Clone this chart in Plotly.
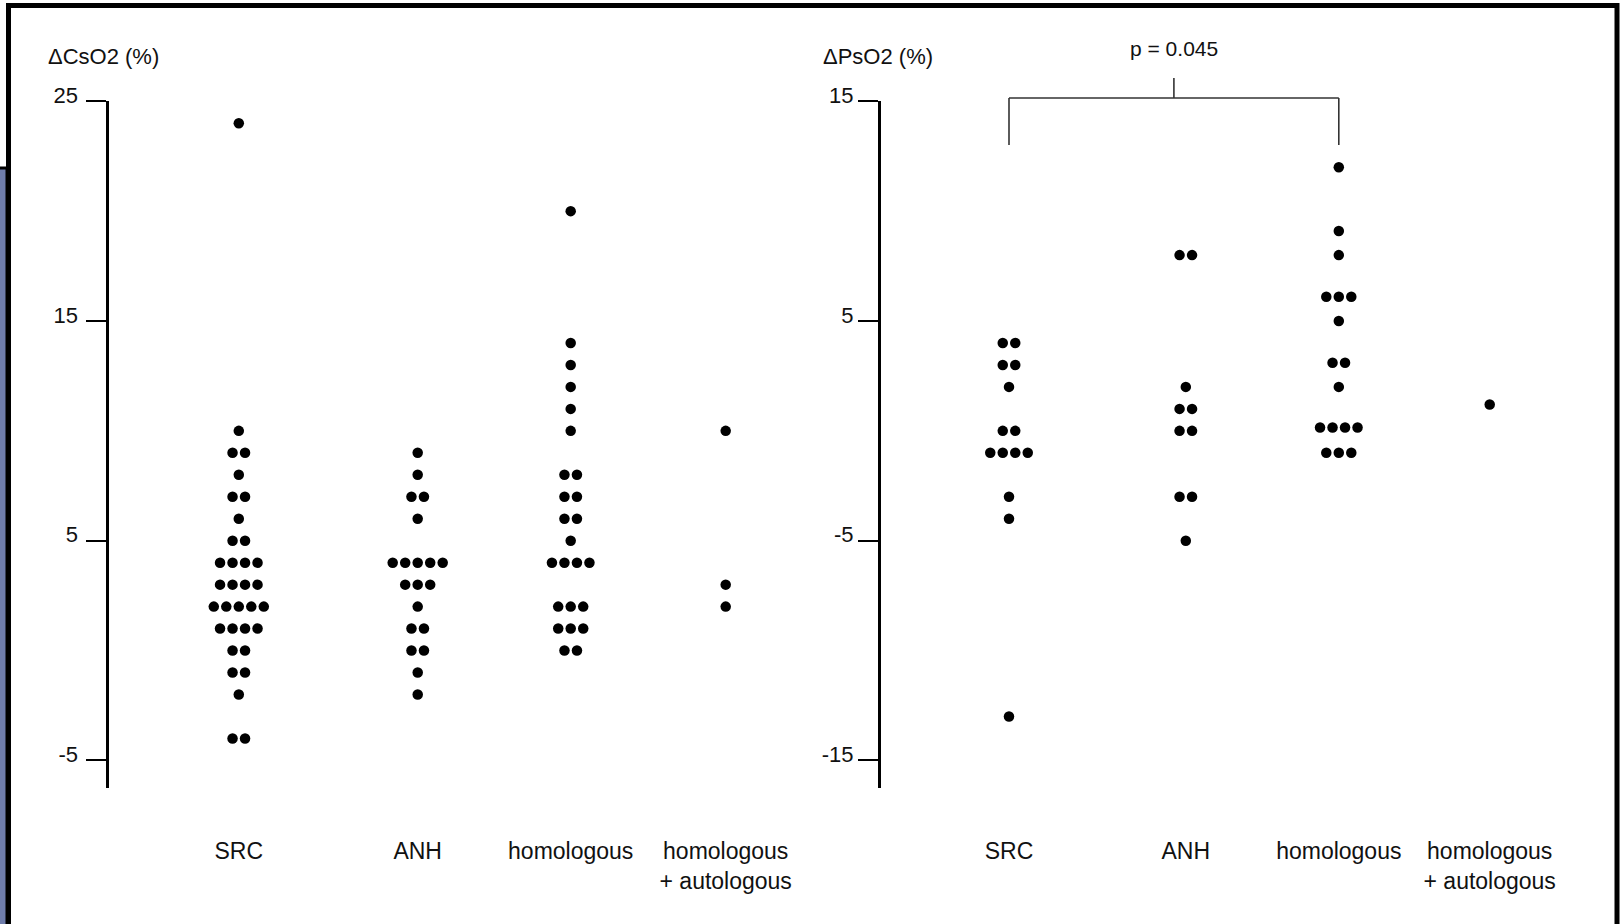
import plotly.graph_objects as go
from collections import Counter

W, H = 1621, 924

# ---------------- data ----------------
categories = ["SRC", "ANH", "homologous", "homologous<br>+ autologous"]

# Delta CsO2 (%) per group
cso2_src = [24, 10, 9, 9, 8, 7, 7, 6, 5, 5, 4, 4, 4, 4, 3, 3, 3, 3,
            2, 2, 2, 2, 2, 1, 1, 1, 1, 0, 0, -1, -1, -2, -4, -4]
cso2_anh = [9, 8, 7, 7, 6, 4, 4, 4, 4, 4, 3, 3, 3, 2, 1, 1, 0, 0, -1, -2]
cso2_hom = [20, 14, 13, 12, 11, 10, 8, 8, 7, 7, 6, 6, 5, 4, 4, 4, 4,
            2, 2, 2, 1, 1, 1, 0, 0]
cso2_homauto = [10, 3, 2]

# Delta PsO2 (%) per group
pso2_src = [4, 4, 3, 3, 2, 0, 0, -1, -1, -1, -1, -3, -4, -13]
pso2_anh = [8, 8, 2, 1, 1, 0, 0, -3, -3, -5]
pso2_hom = [12, 9.1, 8, 6.1, 6.1, 6.1, 5, 3.1, 3.1, 2,
            0.15, 0.15, 0.15, 0.15, -1, -1, -1]
pso2_homauto = [1.2]

cso2_groups = [cso2_src, cso2_anh, cso2_hom, cso2_homauto]
pso2_groups = [pso2_src, pso2_anh, pso2_hom, pso2_homauto]

left_ticks = [25, 15, 5, -5]
right_ticks = [15, 5, -5, -15]
left_title = "ΔCsO2 (%)"
right_title = "ΔPsO2 (%)"
p_label = "p = 0.045"

# ---------------- layout constants (pixels) ----------------
FONT = "Liberation Sans, Arial, Helvetica, sans-serif"
Y_TOP, Y_BOT = 101.3, 788.0
PX_PER_UNIT = 21.97
LX0, LX1 = 108.5, 800.0
RX0, RX1 = 881.0, 1612.0
left_cat_x = [238.8, 417.7, 570.7, 725.7]
right_cat_x = [1009.0, 1185.8, 1338.8, 1489.7]
STEP = 12.5


def px(x):
    return x / W


def py(y):
    return 1 - y / H


def swarm(values, cx):
    xs, ys = [], []
    counts = Counter(values)
    for v, n in counts.items():
        for i in range(n):
            xs.append(cx + (i - (n - 1) / 2) * STEP)
            ys.append(v)
    return xs, ys


fig = go.Figure()
for grp, cx in zip(cso2_groups, left_cat_x):
    xs, ys = swarm(grp, cx)
    fig.add_trace(go.Scatter(x=xs, y=ys, mode="markers", xaxis="x", yaxis="y",
                             marker=dict(size=10.5, color="black", line=dict(width=0)),
                             showlegend=False, hoverinfo="y"))
for grp, cx in zip(pso2_groups, right_cat_x):
    xs, ys = swarm(grp, cx)
    fig.add_trace(go.Scatter(x=xs, y=ys, mode="markers", xaxis="x2", yaxis="y2",
                             marker=dict(size=10.5, color="black", line=dict(width=0)),
                             showlegend=False, hoverinfo="y"))

ydom = [py(Y_BOT), py(Y_TOP)]
span = (Y_BOT - Y_TOP) / PX_PER_UNIT

xcommon = dict(showgrid=False, zeroline=False, showline=False, ticks="",
               tickfont=dict(family=FONT, size=23, color="#111111"),
               ticklabelstandoff=47, fixedrange=True, automargin=False)
ycommon = dict(showgrid=False, zeroline=False, showline=True, linewidth=3,
               linecolor="black", ticks="outside", ticklen=20, tickwidth=2,
               tickcolor="black", tickfont=dict(family=FONT, size=22, color="#111111"),
               ticklabelshift=-6, fixedrange=True, automargin=False)

fig.update_layout(
    template="plotly_white",
    width=W, height=H,
    margin=dict(l=0, r=0, t=0, b=0, pad=0, autoexpand=False),
    paper_bgcolor="white", plot_bgcolor="white",
    xaxis=dict(domain=[px(LX0), px(LX1)], range=[LX0, LX1], anchor="y",
               tickvals=left_cat_x, ticktext=categories, **xcommon),
    yaxis=dict(domain=ydom, range=[left_ticks[0] - span, left_ticks[0]], anchor="x",
               tickvals=left_ticks, ticktext=[str(t) for t in left_ticks],
               ticklabelstandoff=3, **ycommon),
    xaxis2=dict(domain=[px(RX0), px(RX1)], range=[RX0, RX1], anchor="y2",
                tickvals=right_cat_x, ticktext=categories, **xcommon),
    yaxis2=dict(domain=ydom, range=[right_ticks[0] - span, right_ticks[0]], anchor="x2",
                tickvals=right_ticks, ticktext=[str(t) for t in right_ticks],
                ticklabelstandoff=0, **ycommon),
)

# axis titles
fig.add_annotation(text=left_title, x=px(46), y=py(57), xref="paper", yref="paper",
                   xanchor="left", yanchor="middle", showarrow=False,
                   font=dict(family=FONT, size=22, color="#111111"))
fig.add_annotation(text=right_title, x=px(821), y=py(57), xref="paper", yref="paper",
                   xanchor="left", yanchor="middle", showarrow=False,
                   font=dict(family=FONT, size=22, color="#111111"))

# significance bracket (SRC vs homologous, right panel)
bx0, bx1 = right_cat_x[0], right_cat_x[2]
bmid = (bx0 + bx1) / 2
line = dict(color="#333333", width=1.6)
fig.add_shape(type="line", xref="paper", yref="paper", x0=px(bx0), x1=px(bx1),
              y0=py(98), y1=py(98), line=line)
fig.add_shape(type="line", xref="paper", yref="paper", x0=px(bx0), x1=px(bx0),
              y0=py(98), y1=py(145), line=line)
fig.add_shape(type="line", xref="paper", yref="paper", x0=px(bx1), x1=px(bx1),
              y0=py(98), y1=py(145), line=line)
fig.add_shape(type="line", xref="paper", yref="paper", x0=px(bmid), x1=px(bmid),
              y0=py(98), y1=py(78), line=line)
fig.add_annotation(text=p_label, x=px(bmid), y=py(49), xref="paper", yref="paper",
                   xanchor="center", yanchor="middle", showarrow=False,
                   font=dict(family=FONT, size=21, color="#111111"))

# slide frame and side strip
fig.add_shape(type="rect", xref="paper", yref="paper", x0=px(-6), x1=px(7),
              y0=py(168), y1=py(940), fillcolor="#6f7dab",
              line=dict(color="black", width=3), layer="above")
fig.add_shape(type="rect", xref="paper", yref="paper", x0=px(8.5), x1=px(1617),
              y0=py(5.5), y1=py(960), fillcolor="rgba(0,0,0,0)",
              line=dict(color="black", width=5), layer="above")

fig.write_html("out.html", config={"displayModeBar": False})
